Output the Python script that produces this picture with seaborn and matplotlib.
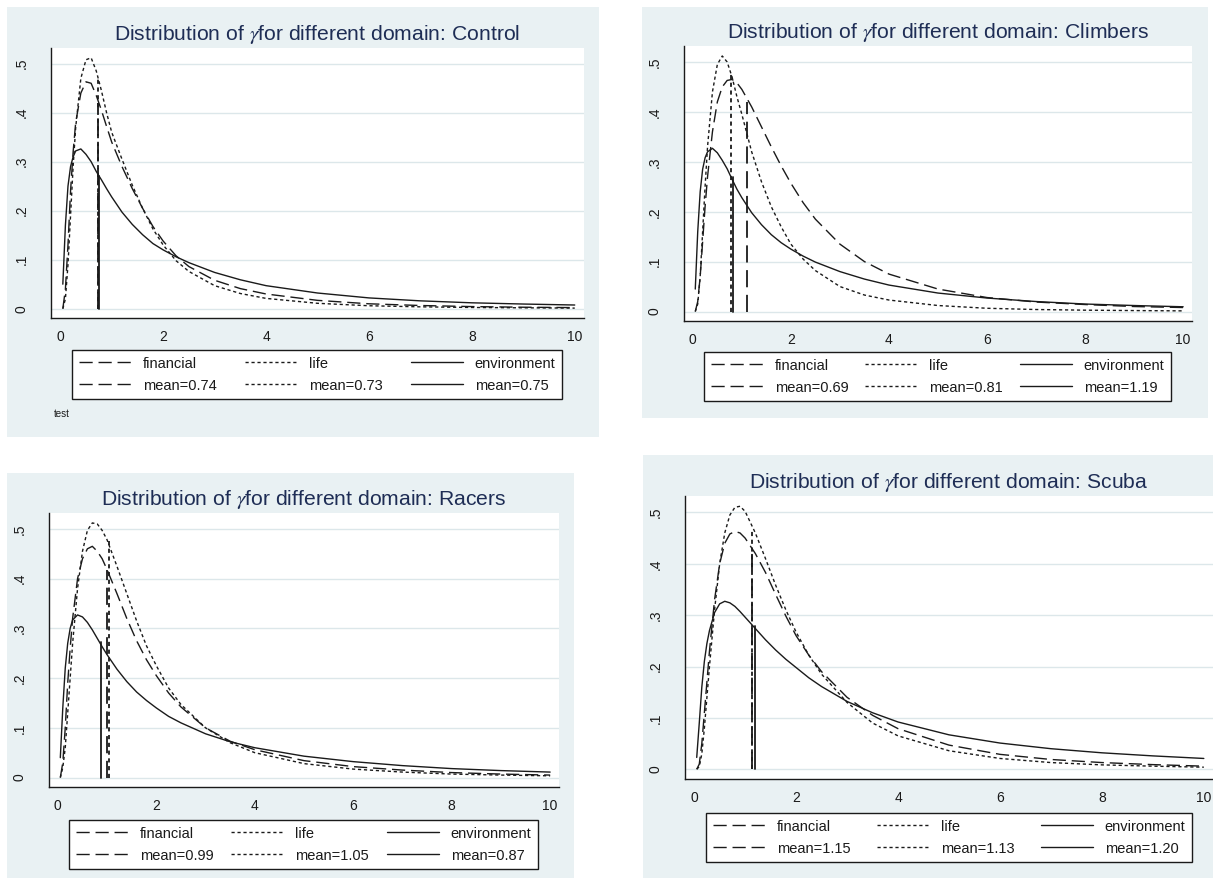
import numpy as np
import pandas as pd
import seaborn as sns
import matplotlib.pyplot as plt
from matplotlib.patches import Rectangle
from matplotlib.lines import Line2D

# gamma grid the densities were read at
gamma = [0.05, 0.1, 0.15, 0.2, 0.25, 0.3, 0.4, 0.5, 0.6, 0.7, 0.8, 0.9, 1.0,
         1.2, 1.4, 1.6, 1.8, 2.0, 2.25, 2.5, 3.0, 3.5, 4.0, 5.0, 6.0, 7.0,
         8.0, 9.0, 10.0]

control_financial = [0.0, 0.04, 0.13, 0.24, 0.32, 0.38, 0.44, 0.463, 0.46, 0.435,
                     0.405, 0.372, 0.34, 0.29, 0.245, 0.205, 0.168, 0.138, 0.108,
                     0.086, 0.058, 0.041, 0.03, 0.017, 0.01, 0.0065, 0.0043,
                     0.003, 0.0022]
control_life = [0.0, 0.02, 0.09, 0.19, 0.29, 0.37, 0.47, 0.508, 0.512, 0.485,
                0.445, 0.40, 0.36, 0.305, 0.252, 0.205, 0.163, 0.13, 0.098,
                0.076, 0.047, 0.031, 0.021, 0.011, 0.006, 0.0038, 0.0025,
                0.0018, 0.0012]
control_environment = [0.05, 0.17, 0.25, 0.29, 0.31, 0.322, 0.326, 0.315, 0.30,
                       0.28, 0.263, 0.245, 0.228, 0.197, 0.172, 0.151, 0.133,
                       0.12, 0.106, 0.094, 0.074, 0.059, 0.047, 0.032, 0.022,
                       0.016, 0.012, 0.0095, 0.0075]

climbers_financial = [0.0, 0.02, 0.07, 0.14, 0.21, 0.27, 0.36, 0.42, 0.45, 0.463,
                      0.465, 0.458, 0.445, 0.41, 0.37, 0.33, 0.292, 0.257, 0.218,
                      0.185, 0.135, 0.10, 0.075, 0.045, 0.028, 0.019, 0.014,
                      0.01, 0.008]
climbers_life = [0.0, 0.015, 0.07, 0.16, 0.25, 0.33, 0.44, 0.495, 0.512, 0.50,
                 0.47, 0.43, 0.395, 0.32, 0.26, 0.21, 0.17, 0.135, 0.105,
                 0.082, 0.05, 0.033, 0.023, 0.012, 0.0065, 0.004, 0.0027,
                 0.0019, 0.0013]
climbers_environment = [0.045, 0.16, 0.24, 0.285, 0.308, 0.32, 0.327, 0.318,
                        0.303, 0.286, 0.265, 0.245, 0.228, 0.198, 0.174, 0.154,
                        0.138, 0.125, 0.111, 0.099, 0.08, 0.065, 0.053, 0.037,
                        0.027, 0.02, 0.015, 0.012, 0.0095]

racers_financial = [0.0, 0.03, 0.10, 0.19, 0.26, 0.32, 0.40, 0.44, 0.46, 0.465,
                    0.455, 0.44, 0.418, 0.37, 0.32, 0.275, 0.237, 0.205, 0.17,
                    0.142, 0.10, 0.073, 0.056, 0.034, 0.022, 0.015, 0.01,
                    0.007, 0.005]
racers_life = [0.0, 0.02, 0.06, 0.13, 0.20, 0.27, 0.38, 0.455, 0.497, 0.512,
               0.51, 0.497, 0.478, 0.425, 0.37, 0.315, 0.265, 0.225, 0.18,
               0.147, 0.10, 0.07, 0.05, 0.028, 0.017, 0.011, 0.007, 0.005,
               0.0035]
racers_environment = [0.04, 0.14, 0.22, 0.27, 0.30, 0.317, 0.327, 0.323, 0.312,
                      0.297, 0.28, 0.263, 0.247, 0.218, 0.193, 0.172, 0.155,
                      0.14, 0.123, 0.11, 0.088, 0.072, 0.06, 0.043, 0.032,
                      0.024, 0.018, 0.014, 0.011]

scuba_financial = [0.0, 0.01, 0.05, 0.11, 0.17, 0.23, 0.33, 0.40, 0.44, 0.458,
                   0.463, 0.46, 0.45, 0.42, 0.383, 0.34, 0.298, 0.26, 0.222,
                   0.19, 0.14, 0.105, 0.079, 0.047, 0.029, 0.019, 0.013,
                   0.009, 0.006]
scuba_life = [0.0, 0.005, 0.03, 0.08, 0.14, 0.20, 0.31, 0.40, 0.46, 0.495,
              0.51, 0.512, 0.502, 0.46, 0.41, 0.358, 0.31, 0.267, 0.222,
              0.185, 0.13, 0.09, 0.065, 0.036, 0.021, 0.013, 0.0085, 0.006,
              0.004]
scuba_environment = [0.023, 0.09, 0.16, 0.21, 0.245, 0.27, 0.305, 0.322, 0.327,
                     0.324, 0.317, 0.307, 0.296, 0.274, 0.252, 0.232, 0.214,
                     0.198, 0.178, 0.161, 0.132, 0.11, 0.092, 0.067, 0.051,
                     0.04, 0.032, 0.026, 0.021]

groups = ['Control', 'Climbers', 'Racers', 'Scuba']
domains = ['financial', 'life', 'environment']

# means printed in the legends (financial, life, environment)
control_means = ['0.74', '0.73', '0.75']
climbers_means = ['0.69', '0.81', '1.19']
racers_means = ['0.99', '1.05', '0.87']
scuba_means = ['1.15', '1.13', '1.20']

# where the vertical mean lines are drawn, and how high they reach
control_line_x = [0.74, 0.73, 0.75]
control_line_top = [0.42, 0.47, 0.27]
climbers_line_x = [1.11, 0.78, 0.81]
climbers_line_top = [0.42, 0.48, 0.27]
racers_line_x = [0.99, 1.03, 0.87]
racers_line_top = [0.418, 0.475, 0.272]
scuba_line_x = [1.14, 1.13, 1.20]
scuba_line_top = [0.43, 0.465, 0.278]

curves = {
    'Control': [control_financial, control_life, control_environment],
    'Climbers': [climbers_financial, climbers_life, climbers_environment],
    'Racers': [racers_financial, racers_life, racers_environment],
    'Scuba': [scuba_financial, scuba_life, scuba_environment],
}
means = {'Control': control_means, 'Climbers': climbers_means,
         'Racers': racers_means, 'Scuba': scuba_means}
line_x = {'Control': control_line_x, 'Climbers': climbers_line_x,
          'Racers': racers_line_x, 'Scuba': scuba_line_x}
line_top = {'Control': control_line_top, 'Climbers': climbers_line_top,
            'Racers': racers_line_top, 'Scuba': scuba_line_top}

# panel layout in pixels: background box, plot box, legend left/top/right
W, H = 1213, 881
layout = {
    'Control': dict(bg=(7, 7, 599, 437), ax=(51, 48, 584, 318), leg=(72, 350, 562)),
    'Climbers': dict(bg=(642, 7, 1208, 418), ax=(684, 46, 1192, 321), leg=(704, 352, 1171)),
    'Racers': dict(bg=(7, 473, 574, 878), ax=(49, 513, 559, 787), leg=(69, 820, 538)),
    'Scuba': dict(bg=(643, 455, 1213, 878), ax=(685, 496, 1213, 779), leg=(706, 813, 1192)),
}

BG = '#e9f1f3'
GRID = '#dce7ea'
INK = '#1a1a1a'
TITLE = '#1e2d55'
dash_map = {'financial': (9.5, 4.2), 'life': (2.3, 2.0), 'environment': ''}


def fig_box(l, t, r, b):
    return [l / W, 1 - b / H, (r - l) / W, (b - t) / H]


sns.set_theme(style='white')
plt.rcParams['font.family'] = ['Liberation Sans', 'DejaVu Sans']
plt.rcParams['mathtext.fontset'] = 'stix'

fig = plt.figure(figsize=(W / 100, H / 100), dpi=100)
fig.patch.set_facecolor('white')

for g in groups:
    lay = layout[g]
    l, t, r, b = lay['bg']
    fig.patches.append(Rectangle((l / W, 1 - b / H), (r - l) / W, (b - t) / H,
                                 transform=fig.transFigure, facecolor=BG,
                                 edgecolor='none', zorder=-10))

    ax = fig.add_axes(fig_box(*lay['ax']))
    ax.set_facecolor('white')

    df = pd.concat([pd.DataFrame({'gamma': gamma, 'density': vals, 'domain': d})
                    for d, vals in zip(domains, curves[g])], ignore_index=True)
    sns.lineplot(data=df, x='gamma', y='density', style='domain',
                 style_order=domains, dashes=dash_map, color=INK, lw=1.0,
                 estimator=None, sort=False, legend=False, ax=ax, zorder=3)

    for d, mx, top in zip(domains, line_x[g], line_top[g]):
        ln, = ax.plot([mx, mx], [0, top], color=INK, lw=1.3, zorder=3)
        if dash_map[d]:
            ln.set_dashes(dash_map[d])

    ax.set_xlim(-0.18, 10.18)
    ax.set_ylim(-0.019, 0.532)
    ax.set_xticks([0, 2, 4, 6, 8, 10])
    ax.set_yticks([0, 0.1, 0.2, 0.3, 0.4, 0.5])
    ax.set_yticklabels(['0', '.1', '.2', '.3', '.4', '.5'], rotation=90, va='center')
    ax.set_xlabel('')
    ax.set_ylabel('')
    ax.yaxis.grid(True, color=GRID, lw=1.0, zorder=0)
    ax.xaxis.grid(False)
    ax.set_axisbelow(True)
    for side in ['top', 'right']:
        ax.spines[side].set_visible(False)
    for side in ['left', 'bottom']:
        ax.spines[side].set_color(INK)
        ax.spines[side].set_linewidth(1.0)
    ax.tick_params(axis='both', direction='out', length=4, width=0.9,
                   color=INK, labelcolor=INK, labelsize=10)
    ax.tick_params(axis='y', pad=12)
    ax.tick_params(axis='x', pad=5)
    ax.set_title(f'Distribution of $\\gamma$for different domain: {g}',
                 fontsize=15.2, color=TITLE, pad=6)

    handles, labels = [], []
    for d, m in zip(domains, means[g]):
        for lab in [d, f'mean={m}']:
            h = Line2D([], [], color=INK, lw=1.0)
            if dash_map[d]:
                h.set_dashes(dash_map[d])
            handles.append(h)
            labels.append(lab)
    ll, lt, lr = lay['leg']
    leg = ax.legend(handles, labels, ncol=3, loc='upper left',
                    bbox_to_anchor=(ll / W, 1 - lt / H, (lr - ll) / W, 0.0),
                    bbox_transform=fig.transFigure, mode='expand',
                    borderaxespad=0, fontsize=10.5, handlelength=3.6,
                    handletextpad=0.8, labelspacing=0.55, borderpad=0.45,
                    fancybox=False, framealpha=1, edgecolor=INK)
    leg.get_frame().set_linewidth(1.0)
    for txt in leg.get_texts():
        txt.set_color(INK)

fig.text(54 / W, 1 - 414 / H, 'test', fontsize=7, color=INK, va='center')

fig.savefig('out.png', dpi=100)
